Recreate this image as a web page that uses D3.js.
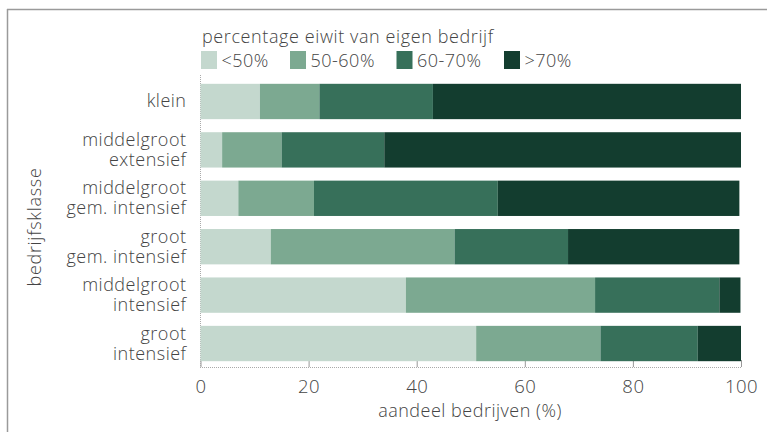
<!DOCTYPE html>
<html><head><meta charset="utf-8">
<script src="https://cdn.jsdelivr.net/npm/d3@7"></script>
<style>
html,body{margin:0;padding:0;background:#fff;}
svg text{font-family:"Open Sans",Lato,sans-serif;font-weight:300;fill:#444;letter-spacing:0.5px;}
</style></head>
<body><svg id="chart" width="767" height="432"></svg>
<script>
const categories = [
  ["klein"],
  ["middelgroot","extensief"],
  ["middelgroot","gem. intensief"],
  ["groot","gem. intensief"],
  ["middelgroot","intensief"],
  ["groot","intensief"]
];
const seriesNames = ["<50%","50-60%","60-70%",">70%"];
const lt50  = [11, 4, 7, 13, 38, 51];
const s5060 = [11, 11, 14, 34, 35, 23];
const s6070 = [21, 19, 34, 21, 23, 18];
const gt70  = [57, 66, 44.7, 31.7, 3.9, 8];
const colors = ["#c4d8ce","#7ca991","#37705a","#133d2f"];
const xTicks = [0,20,40,60,80,100];
const legendTitle = "percentage eiwit van eigen bedrijf";
const xTitle = "aandeel bedrijven (%)";
const yTitle = "bedrijfsklasse";

const svg = d3.select("#chart");
// frame
svg.append("line").attr("x1",7).attr("x2",767).attr("y1",9.5).attr("y2",9.5).attr("stroke","#9a9a9a").attr("stroke-width",1.5);
svg.append("line").attr("x1",7.5).attr("x2",7.5).attr("y1",9).attr("y2",432).attr("stroke","#9a9a9a").attr("stroke-width",1.5);

const x = d3.scaleLinear().domain([0,100]).range([200.5,741]);
const y = d3.scaleBand().domain(categories.map((d,i)=>i)).range([78,367]).paddingInner(0.27).paddingOuter(0.12);

const rows = categories.map((c,i)=>({i, vals:[lt50[i],s5060[i],s6070[i],gt70[i]]}));
const stackData = rows.map(r=>{const o={i:r.i}; seriesNames.forEach((s,k)=>o[s]=r.vals[k]); return o;});
const stacked = d3.stack().keys(seriesNames)(stackData);

// x axis ticks (upward, behind bars)
const xAxis = svg.append("g").attr("transform","translate(0,367)")
  .call(d3.axisBottom(x).tickValues(xTicks).tickSize(-7).tickPadding(0).tickFormat(d3.format("d")));
xAxis.select(".domain").remove();
xAxis.selectAll(".tick line").attr("stroke","#999").attr("stroke-width",1);
xAxis.selectAll(".tick text").attr("y",0).attr("dy",null).attr("dominant-baseline","auto")
  .attr("transform","translate(0,26)").attr("font-size",18.5).style("fill","#444");
// dotted axis lines
svg.append("line").attr("x1",200).attr("x2",741).attr("y1",367.5).attr("y2",367.5).attr("stroke","#aaa").attr("stroke-dasharray","1,1");
svg.append("line").attr("x1",200.5).attr("x2",200.5).attr("y1",75).attr("y2",368).attr("stroke","#aaa").attr("stroke-dasharray","1,1");

// bars
svg.append("g").selectAll("g").data(stacked).join("g")
  .attr("fill",(d,k)=>colors[k])
  .selectAll("rect").data(d=>d).join("rect")
  .attr("x",d=>x(d[0])).attr("width",d=>x(d[1])-x(d[0]))
  .attr("y",d=>y(d.data.i)).attr("height",y.bandwidth());

// category labels
const lab = svg.append("g").selectAll("text").data(categories).join("text")
  .attr("text-anchor","end").attr("font-size",18)
  .attr("transform",(d,i)=>`translate(186.5,${y(i)+y.bandwidth()/2})`);
lab.each(function(lines){
  const t=d3.select(this); const n=lines.length; const lh=20;
  lines.forEach((l,j)=>t.append("tspan").attr("x",0).attr("y",(j-(n-1)/2)*lh+6).text(l));
});

// axis titles
svg.append("text").attr("x",470).attr("y",417).attr("text-anchor","middle").attr("font-size",18).text(xTitle);
svg.append("text").attr("transform","translate(41,227) rotate(-90)").attr("text-anchor","middle").attr("font-size",18).style("letter-spacing","0.7px").text(yTitle);

// legend
svg.append("text").attr("x",202).attr("y",43).attr("font-size",18).style("letter-spacing","0.6px").text(legendTitle);
const legX = [201,290,396.5,504];
const lg = svg.append("g").selectAll("g").data(seriesNames).join("g")
  .attr("transform",(d,k)=>`translate(${legX[k]},51)`);
lg.append("rect").attr("width",16).attr("height",18).attr("fill",(d,k)=>colors[k]);
lg.append("text").attr("x",20.5).attr("y",16).attr("font-size",18).text(d=>d);
</script></body></html>
